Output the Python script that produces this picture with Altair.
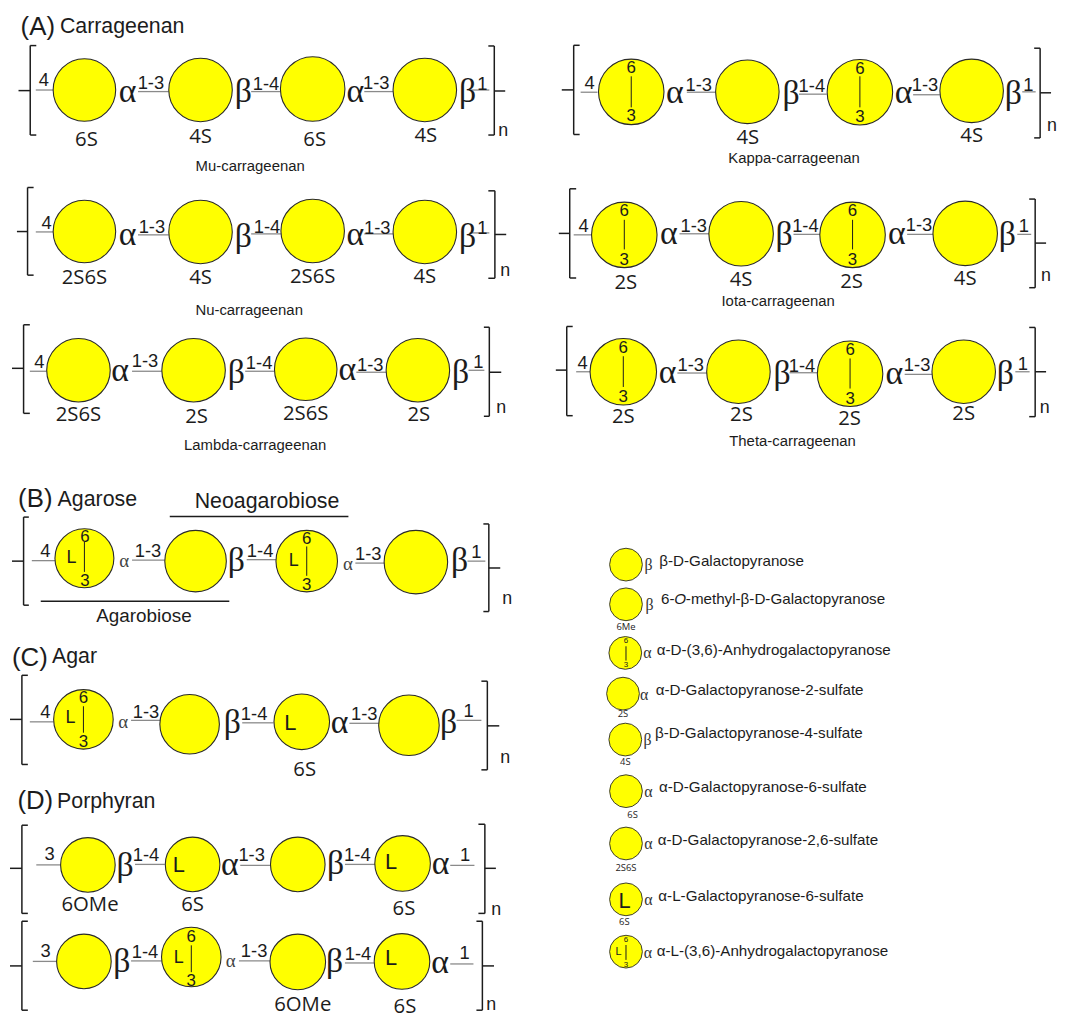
import altair as alt
import pandas as pd

# Diagram units: the picture's own 1065 x 1019 grid (y grows downward).
# ---- residues: (x, y, radius)
residues_carrageenan = [
    (85, 88, 31.5), (202, 88, 32), (315, 87, 32.5), (428, 88, 32),
    (85, 232.5, 31.5), (202, 233, 32), (315, 232, 32), (428, 233, 32),
    (79, 371, 32), (195, 371, 32), (308, 370, 31.5), (421, 371, 32),
    (636, 90, 33), (753, 90, 32), (866.4, 90.4, 33), (979, 89, 32),
    (629, 237.5, 33), (746.7, 236.4, 32.5), (859, 237.5, 33), (972.5, 236, 32.5),
    (628, 378.7, 33.5), (744, 378.7, 32), (856.5, 380.7, 33), (971, 378.7, 32),
]
residues_agar = [
    (85, 563, 29.7), (197, 566, 31), (309, 566, 31), (419, 567, 32),
    (84, 722, 30), (191, 727, 30), (304, 724.5, 28), (412, 728, 30.5),
    (88.5, 870.5, 27.5), (194, 870, 27.5), (300, 870, 27.5), (405.6, 869, 28),
    (84.5, 969, 27.5), (192.7, 964.5, 30), (300, 969.5, 28), (405, 969, 28),
]
residues_key = [
    (630.7, 565, 16.5), (630.7, 605, 16.5), (630, 654, 16.5), (627.7, 695, 16.5),
    (630, 741.3, 16.5), (630.7, 793.3, 16.5), (630.7, 846, 16.5), (630.7, 902.3, 16.5),
    (630.7, 955, 16.5),
]

# ---- repeat-unit brackets: (bar x, top, bottom, serif end x, stem end x, stem y)
brackets = [
    (30.4, 42.6, 134, 36.5, 18.6, 88.6), (498, 43, 134, 492, 509, 89),
    (27.7, 187.6, 273.8, 33.8, 17, 232.6), (498.6, 191, 277, 492, 510, 235.6),
    (23.7, 324.5, 415, 30, 12, 369), (493, 327, 418, 487.5, 505, 373),
    (578, 42, 134, 584, 566, 88), (1048, 45, 137.5, 1042, 1059, 91),
    (574, 190, 282, 580.5, 563, 236), (1043, 200.6, 292, 1037, 1054, 246),
    (571, 332, 424, 577, 560, 377), (1043, 333, 425, 1037, 1054, 378.7),
    (23.7, 521, 611, 29, 12, 566), (492.5, 528, 617.5, 487, 504, 573),
    (22, 677, 768, 28, 10, 722), (491, 683, 773.5, 485, 503, 728.6),
    (22, 830, 920, 28, 10, 874), (488.5, 829, 920, 482, 499.6, 874),
    (22, 928, 1018.8, 28, 10, 973.6), (486, 928, 1018.8, 480, 497.7, 973.6),
]

# ---- glycosidic links: (x from, x to, y)
links = [
    (36, 54, 88), (139, 170, 89.6), (253, 283.5, 89.6), (367, 396, 89.6), (473, 493, 88),
    (36, 54, 233), (139, 170, 236), (253, 283, 235), (367, 396, 235), (473, 493, 234),
    (30, 47, 372), (133, 163, 372), (247, 276.5, 372), (359, 389, 373), (472, 488, 371),
    (585, 602, 90.4), (692, 721, 90.4), (805, 833, 92.4), (920, 947, 93), (1030, 1043.5, 90),
    (578, 596, 237.5), (684.6, 714.6, 236.4), (799.5, 827, 237), (914, 940, 237), (1025, 1039, 237),
    (580.5, 595, 378.7), (682.5, 712.5, 380), (795.5, 823.4, 379.7), (911.5, 939, 381.4), (1023, 1037.4, 378.7),
    (32, 56, 565.5), (133, 166, 565), (248.5, 278, 564.5), (358, 388, 568), (471, 489, 566),
    (30, 54, 724.5), (132, 162, 723), (244, 275.5, 725.5), (352, 382, 726), (460, 485, 723),
    (36.5, 61, 870.5), (136, 166, 870), (242, 272, 871), (347.5, 378, 870), (453.6, 478, 871),
    (33, 57.5, 969), (132, 163, 968.5), (240.7, 272, 968.5), (347.5, 377, 970.6), (453.6, 477, 971.6),
]

# ---- anhydro bridges inside residues: (x, y from, y to)
bridges = [
    (636, 74, 106), (866.4, 74, 106), (629, 222, 252.5), (859, 222, 252.5),
    (628, 362.7, 394.4), (856.5, 365, 396), (85, 546, 577), (309, 551, 581),
    (84, 708.6, 735.6), (192.7, 952.6, 980), (630.7, 647.3, 661.7), (630.7, 948.3, 963.3),
]
# ---- overbars: (x from, x to, y)
overbars = [(171, 351, 520.5), (41, 231, 607)]

# ---- texts: (x, y, text)
panel_letters = [(38, 23.7, "(A)"), (35.5, 503, "(B)"), (30, 659, "(C)"), (35.5, 805.6, "(D)")]
section_names = [
    (123, 23.7, "Carrageenan"), (98, 504, "Agarose"), (75, 658, "Agar"),
    (107, 806, "Porphyran"), (269, 506, "Neoagarobiose"),
]
agarobiose = [(145, 622.6, "Agarobiose")]
captions = [
    (252, 166, "Mu-carrageenan"), (251, 309, "Nu-carrageenan"), (257, 447, "Lambda-carrageenan"),
    (800, 158, "Kappa-carrageenan"), (784, 305.7, "Iota-carrageenan"), (798.5, 450, "Theta-carrageenan"),
]
positions = [
    (44, 78, "4"), (152, 80.5, "1-3"), (268, 82, "1-4"), (379, 80.5, "1-3"), (486, 82, "1"),
    (47, 224, "4"), (153, 228, "1-3"), (269, 228, "1-4"), (380, 229, "1-3"), (486, 229, "1"),
    (39.5, 363, "4"), (146, 362, "1-3"), (261, 364, "1-4"), (373, 366, "1-3"), (482, 363, "1"),
    (594, 81, "4"), (704, 83, "1-3"), (818, 84, "1-4"), (932, 83, "1-3"), (1036, 83, "1"),
    (588, 228, "4"), (699, 228, "1-3"), (811.5, 228.6, "1-4"), (926, 227, "1-3"), (1031.6, 228, "1"),
    (587, 370, "4"), (696, 372, "1-3"), (808, 373, "1-4"), (924, 372, "1-3"), (1030.5, 370.5, "1"),
    (45.6, 556, "4"), (149, 556, "1-3"), (262, 556, "1-4"), (371, 559, "1-3"), (480, 557, "1"),
    (45.6, 715, "4"), (147, 714, "1-3"), (256, 717, "1-4"), (367, 717, "1-3"), (472, 713, "1"),
    (50, 859, "3"), (147, 860, "1-4"), (253.5, 860, "1-3"), (360, 860, "1-4"), (468.5, 860, "1"),
    (46, 958, "3"), (146, 959.4, "1-4"), (256, 958, "1-3"), (360.6, 961, "1-4"), (468, 960, "1"),
]
repeat_marks = [
    (507, 130, "n"), (509, 270, "n"), (505, 410, "n"), (1060, 125, "n"), (1054, 280, "n"),
    (1052.7, 415.6, "n"), (511, 605, "n"), (509, 761, "n"), (500, 916.5, "n"), (495, 1013.7, "n"),
]
greek_large = [
    (128.5, 90, "α"), (245, 90.5, "β"), (358, 90, "α"), (471, 90.5, "β"),
    (128.5, 236, "α"), (245, 238, "β"), (358, 236, "α"), (471, 238, "β"),
    (121, 372, "α"), (238, 374, "β"), (350, 371, "α"), (464, 374, "β"),
    (680, 91, "α"), (797, 92, "β"), (910.4, 91, "α"), (1021, 92, "β"),
    (674, 237, "α"), (790, 238, "β"), (903.6, 237, "α"), (1015, 238, "β"),
    (672.6, 380, "α"), (788, 381.4, "β"), (901, 380.7, "α"), (1013, 381.4, "β"),
    (238, 566, "β"), (463, 566, "β"),
    (234, 726, "β"), (342, 726, "α"), (452, 726, "β"),
    (126, 871.5, "β"), (231.5, 870.5, "α"), (338, 870, "β"), (444, 870, "α"),
    (122.7, 969.5, "β"), (337, 969.5, "β"), (443.5, 970.6, "α"),
]
greek_small = [(125, 565.5, "α"), (350.5, 569, "α"), (124, 725, "α"), (232.5, 968.5, "α")]
greek_key = [
    (653.3, 565, "β"), (654.3, 605.7, "β"), (652.3, 654, "α"), (649, 696.7, "α"),
    (652.3, 741.7, "β"), (653.3, 794, "α"), (653.3, 846.7, "α"), (653.3, 902.7, "α"),
    (652.7, 956.7, "α"),
]
substituents = [
    (87, 139, "6S"), (202, 136, "4S"), (317, 139, "6S"), (429, 135, "4S"),
    (85, 277, "2S6S"), (202, 277, "4S"), (315, 276, "2S6S"), (428, 276, "4S"),
    (79, 417, "2S6S"), (198, 419, "2S"), (308, 416, "2S6S"), (422, 417, "2S"),
    (753.5, 137.5, "4S"), (979, 136, "4S"),
    (630.6, 287, "2S"), (746.7, 284, "4S"), (858, 286.6, "2S"), (972.5, 283, "4S"),
    (628, 425, "2S"), (747, 423, "2S"), (856, 427.5, "2S"), (971, 422.4, "2S"),
    (307, 774, "6S"),
    (90.6, 911.4, "6OMe"), (194, 911, "6S"), (407, 915.5, "6S"),
    (305, 1013.4, "6OMe"), (408, 1015.5, "6S"),
]
substituents_key = [
    (630.7, 628.3, "6Me"), (627.7, 715.7, "2S"), (630, 764, "4S"),
    (637.3, 817.3, "6S"), (630.7, 870.7, "2S6S"), (629, 925, "6S"),
]
ring_atoms = [
    (636, 65, "6"), (636, 115, "3"), (866.4, 66, "6"), (866.4, 116, "3"),
    (629, 212.5, "6"), (629, 263, "3"), (859, 213, "6"), (859, 263, "3"),
    (628, 354, "6"), (628, 405, "3"), (856.5, 356.5, "6"), (856.5, 407, "3"),
    (85.5, 541, "6"), (85.5, 586, "3"), (309, 543, "6"), (309, 590.5, "3"),
    (84, 700, "6"), (84, 745.5, "3"), (192.7, 944, "6"), (192.7, 989, "3"),
]
ring_atoms_key = [(630.7, 642.3, "6"), (630.7, 666, "3"), (630.7, 943.3, "6"), (630.7, 968.3, "3")]
l_marks = [(72, 563, "L"), (296, 566, "L"), (71, 721, "L"), (180, 965.5, "L")]
l_marks_large = [(292.5, 726, "L"), (180, 870.5, "L"), (394, 868, "L"), (394, 966, "L")]
l_key_large = [(629.3, 904.3, "L")]
l_key_small = [(623.3, 955, "L")]
key_names = [
    (664.3, 561.7, "β-D-Galactopyranose"),
    (666, 600, "6-"),
    (691, 600, "-methyl-β-D-Galactopyranose"),
    (661.7, 650.7, "α-D-(3,6)-Anhydrogalactopyranose"),
    (660.7, 691.7, "α-D-Galactopyranose-2-sulfate"),
    (660, 735, "β-D-Galactopyranose-4-sulfate"),
    (664, 789.3, "α-D-Galactopyranose-6-sulfate"),
    (662.7, 842.7, "α-D-Galactopyranose-2,6-sulfate"),
    (663.3, 899.3, "α-L-Galactopyranose-6-sulfate"),
    (661.7, 954.3, "α-L-(3,6)-Anhydrogalactopyranose"),
]
key_names_italic = [(679.3, 600, "O")]

X = alt.Scale(domain=[8, 1065], range=[0, 1057])
Y = alt.Scale(domain=[8, 1019], range=[0, 1011])
INK = "#1c1c1c"
LINK = "#8a8a8a"


def read_y(x, y):
    """Correct the vertical reading error of the crops the values were read from."""
    if x > 540:
        return 30 + (y - 30) * 0.977 if y < 470 else y
    if y >= 640:
        return 640 + (y - 640) * 0.9873
    if y >= 240:
        return 240 + (y - 240) * 0.9862
    return y * 0.9862


def rules(rows, color, width):
    df = pd.DataFrame(
        [(a, b, read_y(a, c), read_y(a, d)) for a, b, c, d in rows],
        columns=["x", "x2", "y", "y2"],
    )
    return alt.Chart(df).mark_rule(color=color, strokeWidth=width).encode(
        x=alt.X("x:Q", scale=X, axis=None),
        x2="x2:Q",
        y=alt.Y("y:Q", scale=Y, axis=None),
        y2="y2:Q",
    )


def words(rows, size, font="Liberation Sans", align="center", color=INK, style="normal"):
    df = pd.DataFrame([(x, read_y(x, y), t) for x, y, t in rows], columns=["x", "y", "t"])
    return alt.Chart(df).mark_text(
        font=font, fontSize=size, align=align, baseline="middle", color=color, fontStyle=style
    ).encode(
        x=alt.X("x:Q", scale=X, axis=None),
        y=alt.Y("y:Q", scale=Y, axis=None),
        text="t:N",
    )


def discs(rows, line):
    df = pd.DataFrame([(x, read_y(x, y), r) for x, y, r in rows], columns=["x", "y", "r"])
    df["area"] = df["r"].map(lambda r: 4 * r * r)
    return alt.Chart(df).mark_point(
        shape="circle", filled=True, fill="#ffff00", stroke="#2a2a2a", strokeWidth=line, opacity=1
    ).encode(
        x=alt.X("x:Q", scale=X, axis=None),
        y=alt.Y("y:Q", scale=Y, axis=None),
        size=alt.Size("area:Q", scale=None, legend=None),
    )


bracket_rows = []
for bx, top, bottom, serif, stem, sy in brackets:
    bracket_rows += [
        (bx, bx, top, bottom),
        (bx, serif, top, top),
        (bx, serif, bottom, bottom),
        (bx, stem, sy, sy),
    ]
link_rows = [(a, b, y, y) for a, b, y in links]
bridge_rows = [(x, x, a, b) for x, a, b in bridges]
bar_rows = [(a, b, y, y) for a, b, y in overbars]

OPEN = "Open Sans"
SERIF = "Liberation Serif"

chart = alt.layer(
    rules(link_rows, LINK, 1.3),
    rules(bracket_rows, INK, 1.5),
    rules(bar_rows, INK, 1.5),
    discs(residues_carrageenan + residues_agar, 1.1),
    discs(residues_key, 0.9),
    rules(bridge_rows, INK, 1),
    words(panel_letters, 26),
    words(section_names, 21.5),
    words(agarobiose, 19),
    words(captions, 15),
    words(positions, 18.5),
    words(repeat_marks, 18),
    words(greek_large, 34, font=SERIF),
    words(greek_small, 19, font=SERIF, color="#444444"),
    words(greek_key, 16, font=SERIF, color="#333333"),
    words(substituents, 20.5, font=OPEN),
    words(substituents_key, 9.5, font=OPEN),
    words(ring_atoms, 17),
    words(ring_atoms_key, 8),
    words(l_marks, 18),
    words(l_marks_large, 22),
    words(l_key_large, 22),
    words(l_key_small, 11),
    words(key_names, 15.3, align="left"),
    words(key_names_italic, 15.3, align="left", style="italic"),
).properties(
    width=1057, height=1011, padding=0, autosize=alt.AutoSizeParams(type="none"), background="white"
).configure_view(stroke=None)

chart.save("out.html", embed_options={"renderer": "svg", "actions": False})
